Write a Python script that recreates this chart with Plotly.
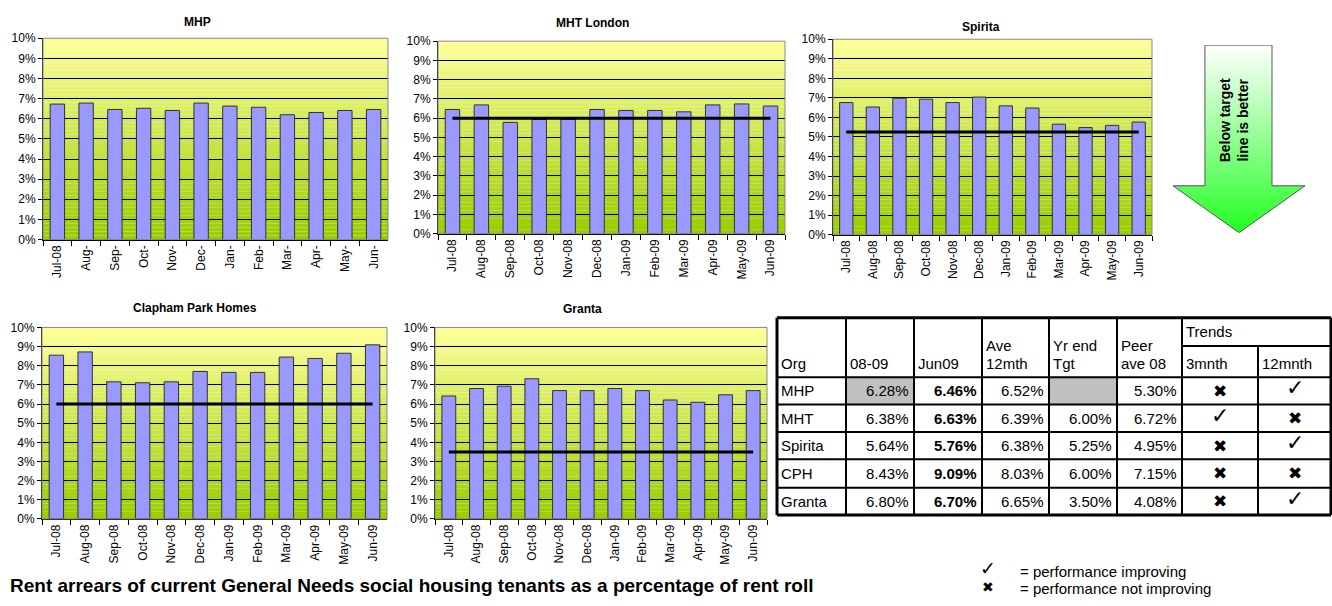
import plotly.graph_objects as go

W, H = 1332, 606

# ---------------- data ----------------
months_full = ["Jul-08", "Aug-08", "Sep-08", "Oct-08", "Nov-08", "Dec-08",
               "Jan-09", "Feb-09", "Mar-09", "Apr-09", "May-09", "Jun-09"]
months_mhp = ["Jul-08", "Aug-", "Sep-", "Oct-", "Nov-", "Dec-",
              "Jan-", "Feb-", "Mar-", "Apr-", "May-", "Jun-"]

mhp_vals = [6.73, 6.78, 6.46, 6.52, 6.41, 6.78, 6.63, 6.57, 6.20, 6.31, 6.41, 6.46]
mht_vals = [6.45, 6.69, 5.78, 5.93, 5.93, 6.45, 6.40, 6.40, 6.33, 6.69, 6.74, 6.63]
spirita_vals = [6.76, 6.53, 6.98, 6.93, 6.76, 7.04, 6.59, 6.48, 5.65, 5.48, 5.59, 5.76]
cph_vals = [8.55, 8.72, 7.16, 7.11, 7.16, 7.70, 7.65, 7.65, 8.45, 8.38, 8.65, 9.09]
granta_vals = [6.42, 6.81, 6.93, 7.32, 6.70, 6.70, 6.81, 6.70, 6.21, 6.09, 6.48, 6.70]

mht_target = 6.00
spirita_target = 5.25
cph_target = 6.00
granta_target = 3.50

y_ticks = [0, 1, 2, 3, 4, 5, 6, 7, 8, 9, 10]
y_tick_labels = ["0%", "1%", "2%", "3%", "4%", "5%", "6%", "7%", "8%", "9%", "10%"]

# table data
tbl_orgs = ["MHP", "MHT", "Spirita", "CPH", "Granta"]
tbl_0809 = ["6.28%", "6.38%", "5.64%", "8.43%", "6.80%"]
tbl_jun09 = ["6.46%", "6.63%", "5.76%", "9.09%", "6.70%"]
tbl_ave12 = ["6.52%", "6.39%", "6.38%", "8.03%", "6.65%"]
tbl_tgt = ["", "6.00%", "5.25%", "6.00%", "3.50%"]
tbl_peer = ["5.30%", "6.72%", "4.95%", "7.15%", "4.08%"]
tbl_trend3 = ["no", "yes", "no", "no", "no"]
tbl_trend12 = ["yes", "no", "yes", "no", "yes"]

CHECK = "\u2713"
CROSS = "\u2716"

FONT = "Liberation Sans, Arial, sans-serif"

def px(x):
    return x / W

def py(y):
    return 1 - y / H

charts = [
    dict(title="MHP", labels=months_mhp, vals=mhp_vals, target=None,
         box=(43, 32, 388, 238), tpos=(197, 15)),
    dict(title="MHT London", labels=months_full, vals=mht_vals, target=mht_target,
         box=(438, 35, 785, 232), tpos=(592, 16)),
    dict(title="Spirita", labels=months_full, vals=spirita_vals, target=spirita_target,
         box=(833, 33, 1152, 233), tpos=(981, 20)),
    dict(title="Clapham Park Homes", labels=months_full, vals=cph_vals, target=cph_target,
         box=(42, 328, 387, 524), tpos=(195, 308)),
    dict(title="Granta", labels=months_full, vals=granta_vals, target=granta_target,
         box=(435, 328, 767, 524), tpos=(582, 309)),
]

fig = go.Figure()
shapes = []
annotations = []

top_c = (255, 255, 153)
bot_c = (153, 204, 0)
NSTRIP = 50

for i, c in enumerate(charts):
    k = i + 1
    xa = "x" if k == 1 else f"x{k}"
    ya = "y" if k == 1 else f"y{k}"
    x0, y0, x1, y1 = c["box"]
    fig.add_trace(go.Bar(x=c["labels"], y=c["vals"], xaxis=xa, yaxis=ya,
                         marker=dict(color="#9999FF", line=dict(color="#333333", width=1)),
                         width=0.5, showlegend=False, hoverinfo="x+y"))
    if c["target"] is not None:
        fig.add_trace(go.Scatter(x=c["labels"], y=[c["target"]] * len(c["labels"]),
                                 xaxis=xa, yaxis=ya, mode="lines",
                                 line=dict(color="black", width=3), showlegend=False))
    xkey = "xaxis" if k == 1 else f"xaxis{k}"
    ykey = "yaxis" if k == 1 else f"yaxis{k}"
    fig.update_layout({
        xkey: dict(domain=[px(x0), px(x1)], anchor=ya, type="category",
                   tickangle=-90, tickfont=dict(size=12, family=FONT, color="black"),
                   showgrid=False, showline=True, linecolor="black", linewidth=1,
                   ticks="outside", ticklen=5, tickcolor="black", tickson="boundaries",
                   fixedrange=True),
        ykey: dict(domain=[py(y1), py(y0)], anchor=xa, range=[0, 10],
                   tickmode="array", tickvals=y_ticks, ticktext=y_tick_labels,
                   tickfont=dict(size=12, family=FONT, color="black"),
                   showgrid=True, gridcolor="black", gridwidth=1,
                   showline=True, linecolor="black", linewidth=1,
                   ticks="outside", ticklen=4, tickcolor="black", zeroline=False,
                   fixedrange=True),
    })
    # gradient background strips
    for s in range(NSTRIP):
        t = (s + 0.5) / NSTRIP
        col = tuple(int(round(bot_c[j] + (top_c[j] - bot_c[j]) * t)) for j in range(3))
        shapes.append(dict(type="rect", xref=f"{xa} domain", yref=ya,
                           x0=0, x1=1, y0=10 * s / NSTRIP, y1=10 * (s + 1) / NSTRIP,
                           fillcolor="rgb(%d,%d,%d)" % col, line=dict(width=0),
                           layer="below"))
    shapes.append(dict(type="rect", xref=f"{xa} domain", yref=f"{ya} domain",
                       x0=0, x1=1, y0=0, y1=1, line=dict(color="#888888", width=1),
                       fillcolor="rgba(0,0,0,0)", layer="above"))
    annotations.append(dict(x=px(c["tpos"][0]), y=py(c["tpos"][1]), xref="paper", yref="paper",
                            text="<b>%s</b>" % c["title"], showarrow=False,
                            font=dict(size=12, family=FONT, color="black"),
                            xanchor="center", yanchor="middle"))

# ---------------- arrow ----------------
ax0, ay0, ax1, ay1 = 1173, 39, 1305, 231
arrow_x = [0.242, 0.75, 0.75, 1.0, 0.5, 0.0, 0.242, 0.242]
arrow_y = [1.0, 1.0, 0.25, 0.25, 0.0, 0.25, 0.25, 1.0]
fig.add_trace(go.Scatter(x=arrow_x, y=arrow_y, xaxis="x6", yaxis="y6", mode="lines",
                         fill="toself", line=dict(color="#555555", width=1),
                         fillgradient=dict(type="vertical",
                                           colorscale=[[0, "#22FF22"], [0.45, "#88FF88"], [1, "#FFFFFF"]]),
                         showlegend=False, hoverinfo="skip"))
fig.update_layout(
    xaxis6=dict(domain=[px(ax0), px(ax1)], range=[0, 1], visible=False, anchor="y6", fixedrange=True),
    yaxis6=dict(domain=[py(ay1), py(ay0)], range=[0, 1], visible=False, anchor="x6", fixedrange=True),
)
annotations.append(dict(x=px(1234), y=py(116), xref="paper", yref="paper",
                        text="<b>Below target<br>line is better</b>", textangle=-90,
                        showarrow=False, font=dict(size=14, family=FONT, color="black"),
                        xanchor="center", yanchor="middle"))

# ---------------- table ----------------
cols = [777, 846, 914, 982, 1049, 1117, 1182, 1258, 1331]
rows = [318, 379, 407, 435, 463, 492, 520]
trend_mid = 347
TF = 15

def hline(x0, x1, y, w=2):
    shapes.append(dict(type="line", xref="paper", yref="paper",
                       x0=px(x0), x1=px(x1), y0=py(y), y1=py(y),
                       line=dict(color="black", width=w)))

def vline(x, y0, y1, w=2):
    shapes.append(dict(type="line", xref="paper", yref="paper",
                       x0=px(x), x1=px(x), y0=py(y0), y1=py(y1),
                       line=dict(color="black", width=w)))

def grey(cx0, cx1, cy0, cy1):
    shapes.append(dict(type="rect", xref="paper", yref="paper",
                       x0=px(cx0), x1=px(cx1), y0=py(cy1), y1=py(cy0),
                       fillcolor="#C0C0C0", line=dict(width=0), layer="below"))

def txt(x, y, s, anchor="left", size=TF, bold=False, fam=FONT):
    annotations.append(dict(x=px(x), y=py(y), xref="paper", yref="paper",
                            text=("<b>%s</b>" % s) if bold else s, showarrow=False,
                            font=dict(size=size, family=fam, color="black"),
                            xanchor=anchor, yanchor="middle"))

# grey cells
grey(cols[1], cols[2], rows[1], rows[2])
grey(cols[4], cols[5], rows[1], rows[2])

for r in rows[1:-1]:
    hline(cols[0], cols[-1], r)
hline(cols[6], cols[-1], trend_mid)
hline(cols[0], cols[-1], rows[0], 3)
hline(cols[0], cols[-1], rows[-1], 3)
vline(cols[0], rows[0], rows[-1], 3)
vline(cols[-1], rows[0], rows[-1], 3)
for cx in cols[1:7]:
    vline(cx, rows[0], rows[-1])
vline(cols[7], trend_mid, rows[-1])

# header text
hb = 365
h1 = 346
txt(cols[0] + 2, hb, "Org")
txt(cols[1] + 2, hb, "08-09")
txt(cols[2] + 2, hb, "Jun09")
txt(cols[3] + 2, h1, "Ave")
txt(cols[3] + 2, hb, "12mth")
txt(cols[4] + 2, h1, "Yr end")
txt(cols[4] + 2, hb, "Tgt")
txt(cols[5] + 2, h1, "Peer")
txt(cols[5] + 2, hb, "ave 08")
txt(cols[6] + 2, 332, "Trends")
txt(cols[6] + 2, hb, "3mnth")
txt(cols[7] + 2, hb, "12mnth")

for i in range(len(tbl_orgs)):
    yc = (rows[i + 1] + rows[i + 2]) / 2
    txt(cols[0] + 2, yc, tbl_orgs[i])
    txt(cols[2] - 3, yc, tbl_0809[i], anchor="right")
    txt(cols[3] - 3, yc, tbl_jun09[i], anchor="right", bold=True)
    txt(cols[4] - 3, yc, tbl_ave12[i], anchor="right")
    if tbl_tgt[i]:
        txt(cols[5] - 3, yc, tbl_tgt[i], anchor="right")
    txt(cols[6] - 3, yc, tbl_peer[i], anchor="right")
    s3 = CHECK if tbl_trend3[i] == "yes" else CROSS
    s12 = CHECK if tbl_trend12[i] == "yes" else CROSS
    txt((cols[6] + cols[7]) / 2, yc - 3 if s3 == CHECK else yc, s3, anchor="center",
        size=22 if s3 == CHECK else 17, fam="DejaVu Sans")
    txt((cols[7] + cols[8]) / 2, yc - 3 if s12 == CHECK else yc, s12, anchor="center",
        size=22 if s12 == CHECK else 17, fam="DejaVu Sans")

# legend
txt(988, 574, CHECK, anchor="center", size=19, fam="DejaVu Sans")
txt(988, 594, CROSS, anchor="center", size=14, fam="DejaVu Sans")
txt(1018, 578, "= performance improving", size=15)
txt(1018, 595, "= performance not improving", size=15)

# caption
annotations.append(dict(x=px(8), y=py(592), xref="paper", yref="paper",
                        text="<b>Rent arrears of current General Needs social housing tenants as a percentage of rent roll</b>",
                        showarrow=False, font=dict(size=19, family=FONT, color="black"),
                        xanchor="left", yanchor="middle"))

fig.update_layout(width=W, height=H, margin=dict(l=0, r=0, t=0, b=0),
                  paper_bgcolor="white", plot_bgcolor="rgba(0,0,0,0)",
                  shapes=shapes, annotations=annotations, bargap=0.5,
                  showlegend=False)

fig.write_html("out.html")
